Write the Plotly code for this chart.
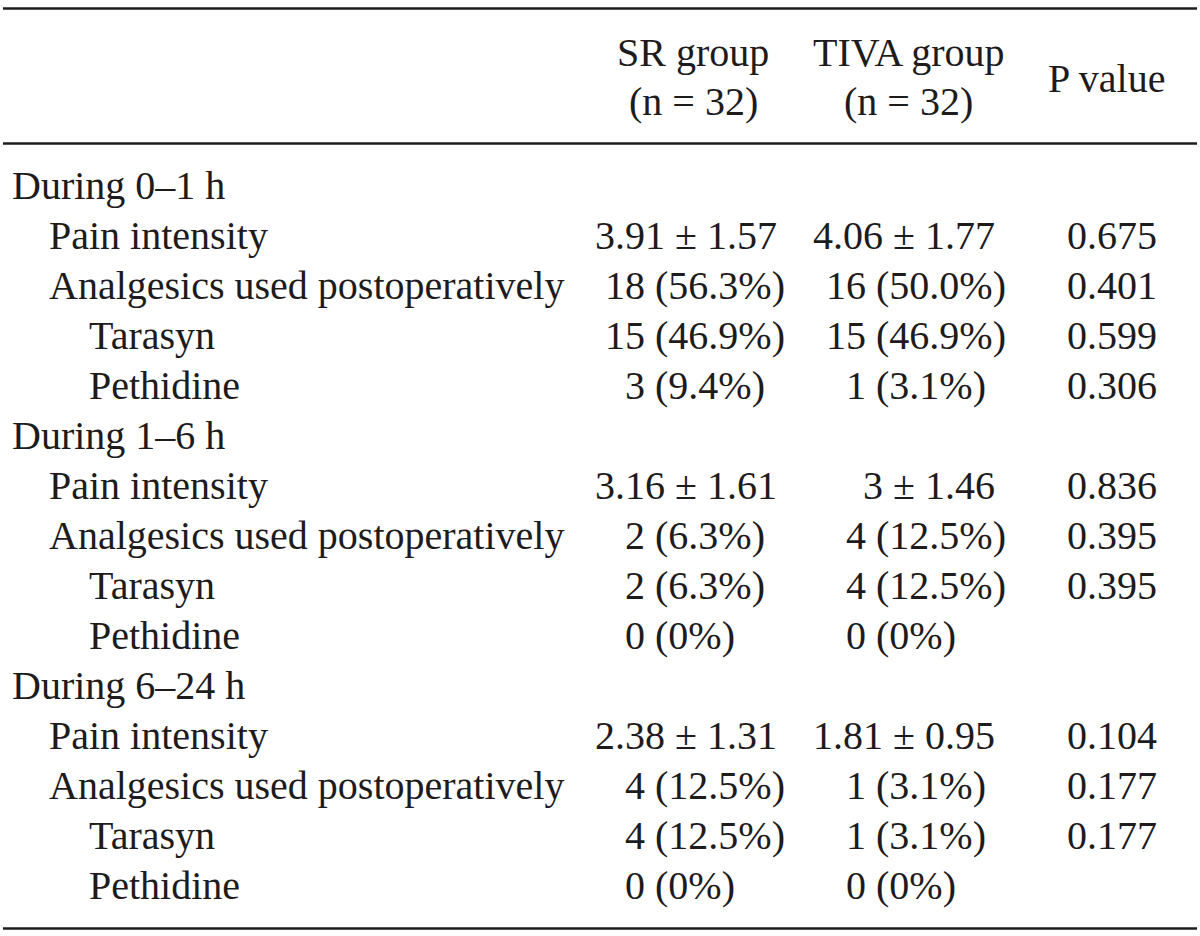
import plotly.graph_objects as go

# ---------------- data ----------------
sections = ["During 0–1 h", "During 1–6 h", "During 6–24 h"]
measures = ["Pain intensity", "Analgesics used postoperatively", "Tarasyn", "Pethidine"]

sr_pain_mean = [3.91, 3.16, 2.38]
sr_pain_sd = [1.57, 1.61, 1.31]
tiva_pain_mean = [4.06, 3, 1.81]
tiva_pain_sd = [1.77, 1.46, 0.95]

sr_analgesic_n = [18, 2, 4]
sr_analgesic_pct = [56.3, 6.3, 12.5]
tiva_analgesic_n = [16, 4, 1]
tiva_analgesic_pct = [50.0, 12.5, 3.1]

sr_tarasyn_n = [15, 2, 4]
sr_tarasyn_pct = [46.9, 6.3, 12.5]
tiva_tarasyn_n = [15, 4, 1]
tiva_tarasyn_pct = [46.9, 12.5, 3.1]

sr_pethidine_n = [3, 0, 0]
sr_pethidine_pct = [9.4, 0, 0]
tiva_pethidine_n = [1, 0, 0]
tiva_pethidine_pct = [3.1, 0, 0]

p_pain = [0.675, 0.836, 0.104]
p_analgesic = [0.401, 0.395, 0.177]
p_tarasyn = [0.599, 0.395, 0.177]
p_pethidine = [0.306, None, None]

# ---------------- style ----------------
FONT = "Liberation Serif, Times New Roman, serif"
FS = 40
COLOR = "#1e1b1c"
W, H = 1200, 936
ROW0 = 185      # centre of first body row
ROWH = 50       # row pitch
LABEL_X = [10, 47, 87]
SR_LEFT, TIVA_LEFT = 603, 824       # left edge for "n (p%)" cells
SR_RIGHT, TIVA_RIGHT = 779, 997     # right edge for mean ± sd cells
P_CENTER = 1112
DIGIT_W = FS * 0.5


def fmt_count(n, p):
    ptxt = "0%" if p == 0 else f"{p:.1f}%"
    return f"{n} ({ptxt})"


def fmt_mean(m, s):
    return f"{m:g} ± {s:.2f}"


fig = go.Figure()
fig.add_trace(go.Scatter(x=[0, W], y=[0, H], mode="markers",
                         marker=dict(opacity=0), hoverinfo="skip", showlegend=False))

ann = []


def add_text(x, y, text, anchor, xshift=0):
    ann.append(dict(x=x, y=y, xref="x", yref="y", text=text, showarrow=False,
                    xanchor=anchor, yanchor="middle", xshift=xshift,
                    font=dict(family=FONT, size=FS, color=COLOR)))


# header
add_text(693, 52, "SR group", "center")
add_text(693, 101, "(n = 32)", "center")
add_text(908, 52, "TIVA group", "center")
add_text(908, 101, "(n = 32)", "center")
add_text(1106, 78, "P value", "center")

row = 0
count_rows = [
    (sr_analgesic_n, sr_analgesic_pct, tiva_analgesic_n, tiva_analgesic_pct, p_analgesic),
    (sr_tarasyn_n, sr_tarasyn_pct, tiva_tarasyn_n, tiva_tarasyn_pct, p_tarasyn),
    (sr_pethidine_n, sr_pethidine_pct, tiva_pethidine_n, tiva_pethidine_pct, p_pethidine),
]
for i, sec in enumerate(sections):
    y = ROW0 + ROWH * row
    add_text(LABEL_X[0], y, sec, "left")
    row += 1
    for j, meas in enumerate(measures):
        y = ROW0 + ROWH * row
        level = 1 if j < 2 else 2
        add_text(LABEL_X[level], y, meas, "left")
        if j == 0:
            add_text(SR_RIGHT, y, fmt_mean(sr_pain_mean[i], sr_pain_sd[i]), "right")
            add_text(TIVA_RIGHT, y, fmt_mean(tiva_pain_mean[i], tiva_pain_sd[i]), "right")
            pv = p_pain[i]
        else:
            sn, sp, tn, tp, pp = count_rows[j - 1]
            add_text(SR_LEFT, y, fmt_count(sn[i], sp[i]), "left",
                     xshift=DIGIT_W if sn[i] < 10 else 0)
            add_text(TIVA_LEFT, y, fmt_count(tn[i], tp[i]), "left",
                     xshift=DIGIT_W if tn[i] < 10 else 0)
            pv = pp[i]
        if pv is not None:
            add_text(P_CENTER, y, f"{pv:.3f}", "center")
        row += 1

shapes = []
for ly in [8.5, 143.5, 928.5]:
    shapes.append(dict(type="line", xref="x", yref="y", x0=3, x1=1197, y0=ly, y1=ly,
                       line=dict(color="#1e1b1c", width=2.6)))

fig.update_layout(
    width=W, height=H, autosize=False,
    margin=dict(l=0, r=0, t=0, b=0, pad=0),
    paper_bgcolor="white", plot_bgcolor="white",
    xaxis=dict(range=[0, W], visible=False, fixedrange=True),
    yaxis=dict(range=[H, 0], visible=False, fixedrange=True),
    annotations=ann, shapes=shapes, showlegend=False,
)

fig.write_html("out.html", config={"displayModeBar": False},
               post_script="document.body.style.margin='0';")
